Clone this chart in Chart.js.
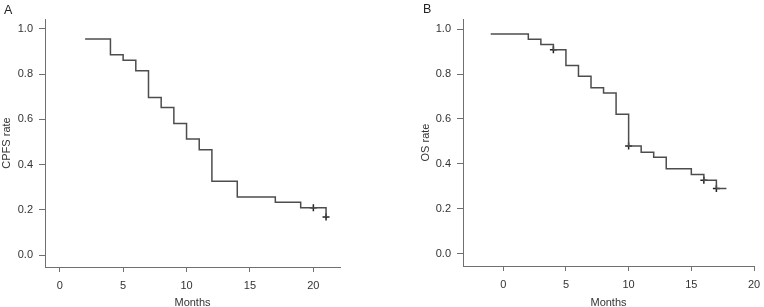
<!DOCTYPE html>
<html>
<head>
<meta charset="utf-8">
<script src="https://cdn.jsdelivr.net/npm/chart.js@4/dist/chart.umd.min.js"></script>
<style>
  body { margin: 0; background: #fff; }
  #wrap { position: relative; width: 764px; height: 307px; overflow: hidden; }
  .panel { position: absolute; top: 0; width: 382px; height: 307px; }
  .tag { position: absolute; font-family: "Liberation Sans", Arial, sans-serif; font-size: 12.5px; line-height: 1; color: #222; }
</style>
</head>
<body>
<div id="wrap">
  <div class="panel" style="left:0"><canvas id="chartA"></canvas></div>
  <div class="panel" style="left:382px"><canvas id="chartB"></canvas></div>
  <div class="tag" style="left:4px;top:4px">A</div>
  <div class="tag" style="left:423px;top:3px">B</div>
</div>
<script>
"use strict";

// Panel A : CPFS
const monthsA = [2, 4, 5, 6, 7, 8, 9, 10, 11, 12, 14, 17, 19, 21];
const rateA = [0.955, 0.886, 0.861, 0.815, 0.697, 0.652, 0.582, 0.513, 0.466, 0.326, 0.257, 0.233, 0.209, 0.168];
const censorMonthsA = [20, 21];
const censorRateA = [0.209, 0.168];

// Panel B : OS
const monthsB = [-1, 2, 3, 4, 5, 6, 7, 8, 9, 10, 11, 12, 13, 15, 16, 17, 17.8];
const rateB = [0.978, 0.955, 0.931, 0.908, 0.838, 0.790, 0.739, 0.716, 0.621, 0.479, 0.452, 0.429, 0.378, 0.353, 0.327, 0.290, 0.290];
const censorMonthsB = [4, 10, 16, 17];
const censorRateB = [0.908, 0.479, 0.327, 0.290];

const xTicks = [0, 5, 10, 15, 20];
const yTicks = [0, 0.2, 0.4, 0.6, 0.8, 1.0];

const axisColor = "#707070";
const lineColor = "#4d4d4d";
const textColor = "#333";
const fontFam = "'Liberation Sans', Arial, Helvetica, sans-serif";

function toPoints(xs, ys) {
    return xs.map((x, i) => ({x: x, y: ys[i]}));
}

function makeChart(id, opts) {
    return new Chart(document.getElementById(id), {
        type: "line",
        data: {
            datasets: [{
                data: toPoints(opts.months, opts.rate),
                stepped: true,
                borderColor: lineColor,
                borderWidth: 1.5,
                pointRadius: 0,
                fill: false
            }, {
                data: toPoints(opts.censorMonths, opts.censorRate),
                showLine: false,
                pointStyle: "cross",
                pointRadius: 3.5,
                borderColor: "#222",
                borderWidth: 1.5
            }]
        },
        options: {
            responsive: false,
            animation: false,
            events: [],
            layout: {padding: {left: opts.padLeft, right: opts.padRight, top: opts.padTop, bottom: 0}},
            plugins: {legend: {display: false}, tooltip: {enabled: false}},
            scales: {
                x: {
                    type: "linear",
                    min: opts.xMin,
                    max: opts.xMax,
                    afterBuildTicks: s => { s.ticks = xTicks.map(v => ({value: v})); },
                    afterFit: s => { s.height = opts.xHeight; s.paddingLeft = 0; s.paddingRight = 0; },
                    grid: {drawOnChartArea: false, drawTicks: true, tickLength: 5, color: axisColor},
                    border: {display: true, color: axisColor, width: 1},
                    ticks: {padding: 7, color: textColor, font: {family: fontFam, size: 11}, maxRotation: 0},
                    title: {display: true, text: "Months", color: textColor, font: {family: fontFam, size: 11}, padding: {top: 0, bottom: -3}}
                },
                y: {
                    type: "linear",
                    min: opts.yMin,
                    max: opts.yMax,
                    afterBuildTicks: s => { s.ticks = yTicks.map(v => ({value: v})); },
                    afterFit: s => { s.width = opts.yWidth; s.paddingTop = 0; s.paddingBottom = 0; },
                    grid: {drawOnChartArea: false, drawTicks: true, tickLength: 6, color: axisColor},
                    border: {display: true, color: axisColor, width: 1},
                    ticks: {padding: 6, color: textColor, font: {family: fontFam, size: 11}, callback: v => v.toFixed(1)},
                    title: {display: true, text: opts.yTitle, color: textColor, font: {family: fontFam, size: 11}, padding: 0}
                }
            }
        }
    });
}

const canvasA = document.getElementById("chartA");
canvasA.width = 382; canvasA.height = 307;
const canvasB = document.getElementById("chartB");
canvasB.width = 382; canvasB.height = 307;

makeChart("chartA", {
    months: monthsA, rate: rateA, censorMonths: censorMonthsA, censorRate: censorRateA,
    xMin: -1.16, xMax: 22.1, yMin: -0.053, yMax: 1.044,
    padLeft: 0, padRight: 42, padTop: 19, yWidth: 45, xHeight: 40,
    yTitle: "CPFS rate"
});

makeChart("chartB", {
    months: monthsB, rate: rateB, censorMonths: censorMonthsB, censorRate: censorRateB,
    xMin: -3.21, xMax: 20, yMin: -0.055, yMax: 1.045,
    padLeft: 37, padRight: 10, padTop: 19, yWidth: 44, xHeight: 41,
    yTitle: "OS rate"
});
</script>
</body>
</html>
